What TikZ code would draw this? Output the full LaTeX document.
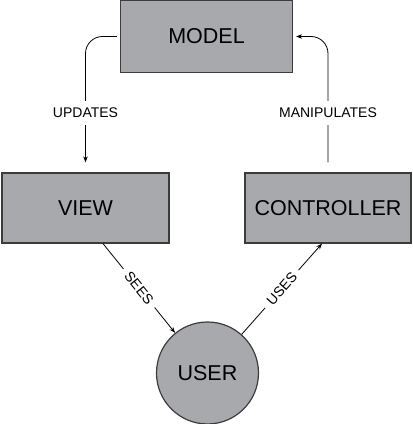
\documentclass[tikz,border=0pt]{standalone}
\usepackage{fontspec}
\setmainfont{Liberation Sans}
\usetikzlibrary{arrows.meta}
\definecolor{boxgray}{RGB}{168,169,173}
\definecolor{edgegray}{RGB}{60,60,60}
\begin{document}
\begin{tikzpicture}[x=1pt,y=1pt,
  box/.style={draw=edgegray, line width=1.2pt, fill=boxgray, font=\fontsize{21.5}{24}\selectfont, inner sep=0pt},
  conn/.style={draw=black, line width=0.8pt, -{Stealth[length=6pt,width=4.5pt]}},
  lbl/.style={fill=white, font=\fontsize{14}{16}\selectfont, inner xsep=6pt, inner ysep=7pt}]
\useasboundingbox (0,0) rectangle (413,424);
\node[box, minimum width=172pt, minimum height=72pt] (model) at (206.5,387.5) {MODEL};
\node[box, minimum width=167pt, minimum height=70pt] (view) at (85.5,216) {VIEW};
\node[box, minimum width=166pt, minimum height=70pt] (ctrl) at (328,216) {CONTROLLER};
\node[circle, draw=edgegray, line width=1.2pt, fill=boxgray, minimum size=102pt, inner sep=0pt, font=\fontsize{21.5}{24}\selectfont] (user) at (207.5,51) {USER};
\coordinate (ms) at ([xshift=-3pt]model.west);
\coordinate (vt) at ([yshift=10pt]view.north);
\coordinate (cs) at ([yshift=10pt]ctrl.north);
\coordinate (me) at ([xshift=3pt]model.east);
\coordinate (vb) at ([xshift=17.5pt]view.south);
\coordinate (cb) at ([xshift=-6pt]ctrl.south);
\draw[conn, rounded corners=17pt] (ms) -| (vt);
\draw[conn, rounded corners=17pt] (cs) |- (me);
\node[lbl] (updl) at (view.north |- 0,311) {UPDATES};
\node[lbl] (manl) at (ctrl.north |- 0,311) {MANIPULATES};
\draw[conn] (vb) -- node[lbl, sloped, inner ysep=3pt] (seesl) {SEES} (user);
\draw[conn] (user) -- node[lbl, sloped, inner ysep=3pt] (usesl) {USES} (cb);
\end{tikzpicture}
\end{document}
